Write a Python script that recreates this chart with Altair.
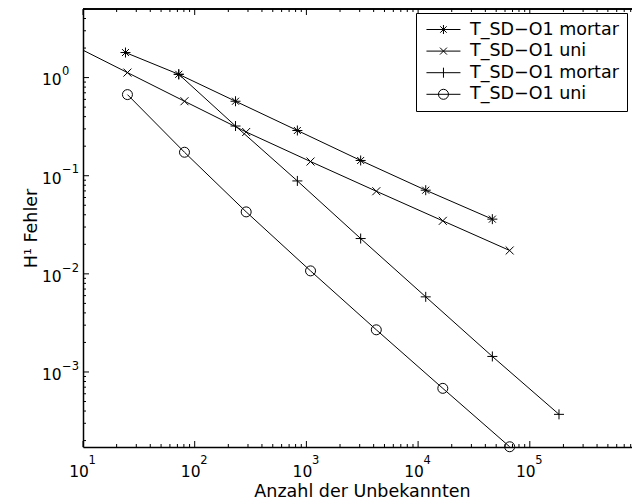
import altair as alt
import pandas as pd

# ---------------- data ----------------
series_keys = ["s1", "s2", "s3", "s4"]
series_labels = ["T_SD−O1 mortar", "T_SD−O1 uni", "T_SD−O1 mortar", "T_SD−O1 uni"]

mortar_a_x = [24, 72, 232, 830, 3060, 11700, 46200]
mortar_a_y = [1.80, 1.08, 0.574, 0.289, 0.143, 0.0712, 0.0361]

uni_a_x = [9, 25, 81, 289, 1089, 4225, 16641, 66049]
uni_a_y = [2.02, 1.124, 0.574, 0.279, 0.1395, 0.0695, 0.0347, 0.0173]

mortar_b_x = [72, 232, 830, 3060, 11700, 46200, 182500]
mortar_b_y = [1.08, 0.321, 0.0885, 0.0229, 0.00583, 0.00144, 0.000370]

uni_b_x = [25, 81, 289, 1089, 4225, 16641, 66049]
uni_b_y = [0.671, 0.1735, 0.0428, 0.01072, 0.00269, 0.000681, 0.000173]

x_domain = [10, 822000]
y_domain = [0.000172, 5]

x_label_values = [10, 100, 1000, 10000, 100000]
x_label_exps = ["1", "2", "3", "4", "5"]
y_label_values = [0.001, 0.01, 0.1, 1]
y_label_exps = ["−3", "−2", "−1", "0"]

x_major = [10, 100, 1000, 10000, 100000]
x_minor = [k * 10 ** d for d in range(1, 6) for k in range(2, 10) if k * 10 ** d <= x_domain[1]]
y_major = [0.001, 0.01, 0.1, 1]
y_minor = [k * 10.0 ** d for d in range(-4, 1) for k in range(2, 10)
           if y_domain[0] <= k * 10.0 ** d <= y_domain[1]]

# ---------------- build tables ----------------
rows = []
for key, xs, ys in [("s1", mortar_a_x, mortar_a_y), ("s2", uni_a_x, uni_a_y),
                    ("s3", mortar_b_x, mortar_b_y), ("s4", uni_b_x, uni_b_y)]:
    for i, (xv, yv) in enumerate(zip(xs, ys)):
        rows.append({"series": key, "x": xv, "y": yv, "i": i})
df = pd.DataFrame(rows)

W, H = 549, 438
FONT = "DejaVu Sans"

xscale = alt.Scale(type="log", domain=x_domain, nice=False)
yscale = alt.Scale(type="log", domain=y_domain, nice=False)

x_axis = alt.Axis(values=x_label_values, labelExpr="'10'", grid=False, ticks=False, tickSize=0,
                  labelAlign="center", labelBaseline="alphabetic", labelPadding=29.2,
                  labelOffset=-4.5, labelOverlap=False, title="Anzahl der Unbekannten",
                  titleX=279, titleY=49, titleBaseline="alphabetic", titleAlign="center")
y_axis = alt.Axis(values=y_label_values, labelExpr="'10'", grid=False, ticks=False, tickSize=0,
                  labelAlign="left", labelBaseline="alphabetic", labelPadding=41.5, labelOffset=7.4,
                  labelOverlap=False, title="H¹ Fehler",
                  titleX=-47, titleY=219, titleAngle=270, titleBaseline="alphabetic",
                  titleAlign="center")

X = alt.X("x:Q", scale=xscale, axis=x_axis)
Y = alt.Y("y:Q", scale=yscale, axis=y_axis)

marker_paths = [
    "M-1,0H1M0,-1V1M-0.7,-0.7L0.7,0.7M-0.7,0.7L0.7,-0.7",
    "M-0.8,-0.8L0.8,0.8M-0.8,0.8L0.8,-0.8",
    "M-1,0H1M0,-1V1",
    "M1,0A1,1,0,1,1,-1,0A1,1,0,1,1,1,0Z",
]


# legend symbols: unit = 8.5 px, a 34 px line with the marker in its middle,
# drawn shifted to the right inside the symbol box
def _f(v):
    return ("%.3f" % v).rstrip("0").rstrip(".")


S = 1.29  # shift (units)
line_part = "M%s,0H%s" % (_f(S - 2), _f(S + 2))
legend_paths = [
    line_part + "M%s,-0.53V0.53M%s,-0.38L%s,0.38M%s,0.38L%s,-0.38" % (
        _f(S), _f(S - 0.38), _f(S + 0.38), _f(S - 0.38), _f(S + 0.38)),
    line_part + "M%s,-0.41L%s,0.41M%s,0.41L%s,-0.41" % (
        _f(S - 0.41), _f(S + 0.41), _f(S - 0.41), _f(S + 0.41)),
    line_part + "M%s,-0.59V0.59" % _f(S),
    line_part + "M%s,0A0.59,0.59,0,1,1,%s,0A0.59,0.59,0,1,1,%s,0Z" % (
        _f(S + 0.59), _f(S - 0.59), _f(S + 0.59)),
]

lines = alt.Chart(df).mark_line(clip=True, color="black", strokeWidth=1).encode(
    x=X, y=Y, detail="series:N", order="i:Q")

points = alt.Chart(df).transform_filter("datum.x >= 10").mark_point(
    filled=False, opacity=1, color="black", strokeWidth=1, size=100).encode(
    x=X, y=Y,
    shape=alt.Shape("series:N", scale=alt.Scale(domain=series_keys, range=marker_paths), legend=None))

label_expr = ("[" + ",".join("'%s'" % t for t in series_labels) + "][indexof(["
              + ",".join("'%s'" % k for k in series_keys) + "], datum.value)]")

legend_layer = alt.Chart(df).transform_filter("datum.x < 0").mark_point(
    filled=False, opacity=1, color="black", strokeWidth=1, size=289).encode(
    x=X, y=Y,
    shape=alt.Shape("series:N", scale=alt.Scale(domain=series_keys, range=legend_paths),
                    legend=alt.Legend(title=None, orient="none", legendX=333, legendY=4,
                                      padding=7.5, strokeColor="black", fillColor="white",
                                      cornerRadius=0, symbolStrokeColor="black",
                                      symbolStrokeWidth=1, symbolFillColor="transparent",
                                      symbolSize=289, symbolOffset=0,
                                      labelFont=FONT, labelFontSize=17.5, labelColor="black",
                                      labelOffset=28.5, rowPadding=3.6, labelLimit=400,
                                      labelBaseline="middle", labelExpr=label_expr)))

# ---------------- exponents of the tick labels ----------------
x_exp_df = pd.DataFrame({"x": x_label_values, "t": x_label_exps})
y_exp_df = pd.DataFrame({"y": y_label_values, "t": y_label_exps})

x_exps = alt.Chart(x_exp_df).mark_text(
    align="left", baseline="alphabetic", dx=5.5, font=FONT, fontSize=11.5, color="black").encode(
    x=X, y=alt.value(H + 17.4), text="t:N")
y_exps = alt.Chart(y_exp_df).mark_text(
    align="left", baseline="alphabetic", dy=-2.3, font=FONT, fontSize=11.5, color="black").encode(
    y=Y, x=alt.value(-21), text="t:N")

# ---------------- frame top line and inward ticks ----------------
top_line = alt.Chart(x_exp_df).mark_rule(color="black", strokeWidth=1).encode(
    x=alt.value(0), x2=alt.value(W), y=alt.value(0))

tx_major = pd.DataFrame({"x": x_major})
tx_minor = pd.DataFrame({"x": x_minor})
ty_major = pd.DataFrame({"y": y_major})
ty_minor = pd.DataFrame({"y": y_minor})


def xticks(data, length):
    bottom = alt.Chart(data).mark_rule(color="black", strokeWidth=1).encode(
        x=X, y=alt.value(H), y2=alt.value(H - length))
    top = alt.Chart(data).mark_rule(color="black", strokeWidth=1).encode(
        x=X, y=alt.value(0), y2=alt.value(length))
    return [bottom, top]


def yticks(data, length):
    left = alt.Chart(data).mark_rule(color="black", strokeWidth=1).encode(
        y=Y, x=alt.value(0), x2=alt.value(length))
    return [left]


tick_layers = xticks(tx_major, 6) + xticks(tx_minor, 3) + yticks(ty_major, 6) + yticks(ty_minor, 3)

chart = alt.layer(lines, points, legend_layer, x_exps, y_exps, top_line, *tick_layers).resolve_scale(
    shape="independent"
).properties(
    width=W, height=H,
    autosize=alt.AutoSizeParams(type="none"),
    padding={"left": 75, "top": 1, "right": 0, "bottom": 55},
).configure_view(
    strokeWidth=0, stroke=None
).configure_axis(
    labelFont=FONT, labelFontSize=15.5, labelColor="black",
    titleFont=FONT, titleFontSize=17.5, titleColor="black", titleFontWeight="normal",
    domain=True, domainColor="black", domainWidth=1.5,
)

chart.save("out.html", embed_options={"renderer": "svg", "actions": False})
